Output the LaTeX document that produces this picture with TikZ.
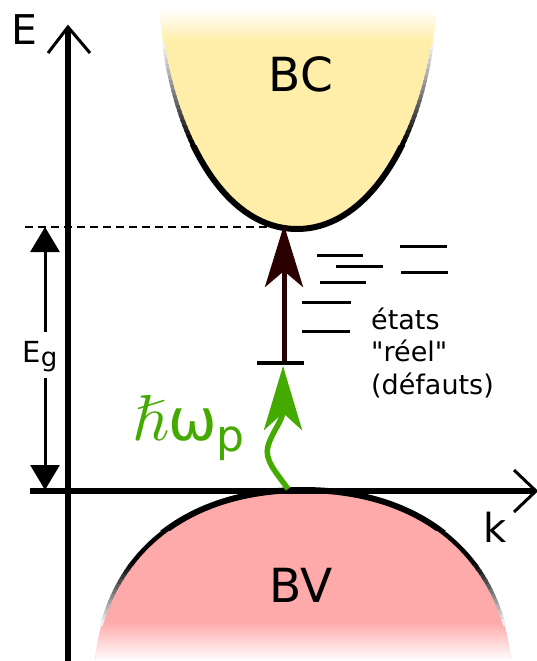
\documentclass[tikz,border=0pt]{standalone}
\usepackage{graphicx}
\usepackage{amssymb}
\usepackage{fontspec}
\setmainfont{DejaVu Sans}[Ligatures=TeXOff]
\usetikzlibrary{arrows.meta}
\definecolor{bcy}{HTML}{FFEEAA}
\definecolor{bvp}{HTML}{FFAAAA}
\definecolor{phot}{HTML}{44AA00}
\definecolor{darkr}{HTML}{2B0000}
\begin{document}
\begin{tikzpicture}[x=1pt,y=-1pt,
  level/.style={line width=3pt},
  lbl/.style={inner sep=0pt,text=black},
  axis/.style={line width=5.5pt},
  chev/.style={line width=3pt},
  ]
\useasboundingbox (0,0) rectangle (537,661);
% ---------- BC band
\begin{scope}
  \clip (160,12) .. controls (168,125) and (220,229) .. (297,229) .. controls (374,229) and (428,125) .. (436,12) -- cycle;
  \fill[bcy] (150,0) rectangle (450,240);
  \shade[top color=white,bottom color=bcy] (150,10) rectangle (450,40);
\end{scope}
\foreach \i in {0,...,19}{
  \pgfmathtruncatemacro\ya{45+5*\i}
  \pgfmathtruncatemacro\yb{51+5*\i}
  \pgfmathtruncatemacro\sh{5+5*\i}
  \pgfmathsetmacro\lw{2.5+0.12*\i}
  \begin{scope}
    \clip (0,\ya) rectangle (537,\yb);
    \draw[line width=\lw pt,black!\sh] (160,12) .. controls (168,125) and (220,229) .. (297,229) .. controls (374,229) and (428,125) .. (436,12);
  \end{scope}
}
\begin{scope}
  \clip (0,145) rectangle (537,240);
  \draw[line width=6pt] (160,12) .. controls (168,125) and (220,229) .. (297,229) .. controls (374,229) and (428,125) .. (436,12);
\end{scope}
% ---------- BV band
\begin{scope}
  \clip (95,661) .. controls (105,560) and (180,490) .. (303,490) .. controls (426,490) and (501,560) .. (511,661) -- cycle;
  \fill[bvp] (80,480) rectangle (530,661);
  \shade[top color=bvp,bottom color=white] (80,622) rectangle (530,661);
\end{scope}
\begin{scope}
  \clip (0,480) rectangle (537,530);
  \draw[line width=6pt] (95,661) .. controls (105,560) and (180,490) .. (303,490) .. controls (426,490) and (501,560) .. (511,661);
\end{scope}
\begin{scope}
  \clip (0,529) rectangle (537,565);
  \draw[line width=4.5pt] (95,661) .. controls (105,560) and (180,490) .. (303,490) .. controls (426,490) and (501,560) .. (511,661);
\end{scope}
\foreach \i in {0,...,11}{
  \pgfmathtruncatemacro\ya{564+5*\i}
  \pgfmathtruncatemacro\yb{570+5*\i}
  \pgfmathtruncatemacro\sh{95-8*\i}
  \pgfmathsetmacro\lw{4.3-0.15*\i}
  \begin{scope}
    \clip (0,\ya) rectangle (537,\yb);
    \draw[line width=\lw pt,black!\sh] (95,661) .. controls (105,560) and (180,490) .. (303,490) .. controls (426,490) and (501,560) .. (511,661);
  \end{scope}
}
% ---------- coordinates
\coordinate (Ebot) at (68,661);
\coordinate (Etop) at (68,30);
\coordinate (Etip) at (68,27);
\coordinate (kleft) at (30,491);
\coordinate (kright) at (534,491);
\coordinate (ktip) at (536,491);
\coordinate (dashL) at (25,227);
\coordinate (dashR) at (285,227);
\coordinate (egtop) at (45,227);
\coordinate (egbot) at (45,490);
\coordinate (egT) at (45,332);
\coordinate (egB) at (45,378);
\coordinate (tickL) at (257,363);
\coordinate (tickR) at (304,363);
\coordinate (tickM) at (284,363);
\coordinate (bcmin) at (284,225);
\coordinate (bvmax) at (288,489);
\coordinate (photTip) at (283,366);
% ---------- dashed level
\draw[line width=2pt,dash pattern=on 8pt off 5pt] (dashL) -- (dashR);
% ---------- axes
\draw[axis] (Ebot) -- (Etop);
\draw[chev] (48,53) -- (Etip) -- (90,53);
\draw[axis] (kleft) -- (kright);
\draw[chev] (514,470) -- (ktip) -- (514,512);
% ---------- Eg
\draw[line width=3pt,-{Triangle[length=25pt,width=29pt]}] (egT) -- (egtop);
\draw[line width=3pt,-{Triangle[length=25pt,width=29pt]}] (egB) -- (egbot);
\node[lbl,anchor=base,font=\fontsize{29}{29}\selectfont] (Eg) at (40,362) {E\raisebox{-4.5pt}{\fontsize{26}{26}\selectfont g}};
% ---------- transitions
\draw[darkr,line width=5pt,-{Stealth[length=62pt,width=38pt,inset=16pt]}] (tickM) -- (bcmin);
\draw[line width=4pt] (tickL) -- (tickR);
\draw[phot,line width=5.5pt,-{Stealth[length=64pt,width=38pt,inset=17pt]}] (bvmax) .. controls (276,472) and (264,460) .. (268,446) .. controls (272,432) and (283,420) .. (photTip);
% ---------- defect levels
\draw[level] (317,255) -- (363,255);
\draw[level] (336,266) -- (383,266);
\draw[level] (320,282) -- (366,282);
\draw[level] (400,246) -- (447,246);
\draw[level] (401,272) -- (448,272);
\draw[level] (302,302) -- (351,302);
\draw[level] (302,331) -- (350,331);
% ---------- labels
\node[lbl,anchor=base,font=\fontsize{41}{41}\selectfont] (E) at (24,45) {E};
\node[lbl,anchor=base,font=\fontsize{40}{40}\selectfont] (k) at (495,542) {k};
\node[lbl,anchor=base,font=\fontsize{47}{47}\selectfont] (BC) at (301,92) {BC};
\node[lbl,anchor=base,font=\fontsize{47}{47}\selectfont] (BV) at (301,602) {BV};
\node[lbl,anchor=base west,font=\fontsize{27}{27}\selectfont] (et1) at (371,329) {états};
\node[lbl,anchor=base west,font=\fontsize{27}{27}\selectfont] (et2) at (371,361) {"réel"};
\node[lbl,anchor=base west,font=\fontsize{27}{27}\selectfont] (et3) at (371,394) {(défauts)};
\node[inner sep=0pt,text=phot,anchor=base west,font=\fontsize{58}{58}\selectfont] (hw) at (132,440) {\scalebox{6.5}{\normalsize$\hslash$}\kern1pt ω\raisebox{-11pt}{\fontsize{44}{44}\selectfont p}};
\end{tikzpicture}
\end{document}
